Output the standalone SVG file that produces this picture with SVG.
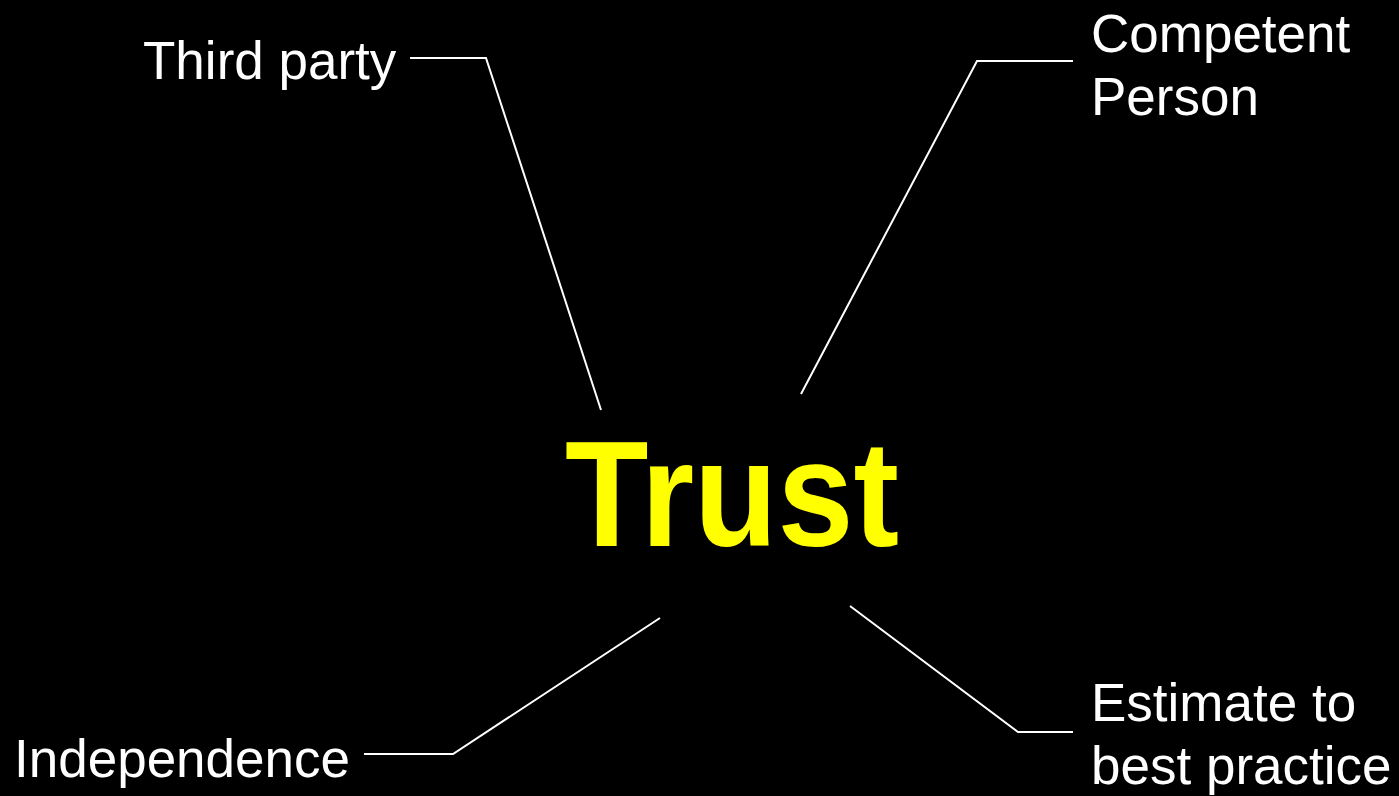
<svg xmlns="http://www.w3.org/2000/svg" width="1399" height="796" viewBox="0 0 1399 796">
<style>
.lbl{font-family:"Liberation Sans",Arial,sans-serif;font-size:53px;fill:#fff}
.c{fill:none;stroke:#fff;stroke-width:2}
</style>
<rect width="1399" height="796" fill="#000"/>
<g id="connectors">
<polyline class="c" points="410,58 486,58 601,410"/>
<polyline class="c" points="1073,61 977,61 801,394"/>
<polyline class="c" points="364,754 453,754 660,618"/>
<polyline class="c" points="850,606 1018,732 1073,732"/>
</g>
<g id="trust"><text x="565" y="546" font-family="'Liberation Sans',Arial,sans-serif" font-weight="bold" font-size="150" fill="#ffff00" textLength="334" lengthAdjust="spacingAndGlyphs">Trust</text></g>
<g id="third-party"><text class="lbl" x="143" y="79">Third party</text></g>
<g id="competent-person"><text class="lbl" x="1091" y="52">Competent</text><text class="lbl" x="1091" y="115">Person</text></g>
<g id="independence"><text class="lbl" x="14" y="777">Independence</text></g>
<g id="estimate"><text class="lbl" x="1091" y="721">Estimate to</text><text class="lbl" x="1091" y="784">best practice</text></g>
</svg>
